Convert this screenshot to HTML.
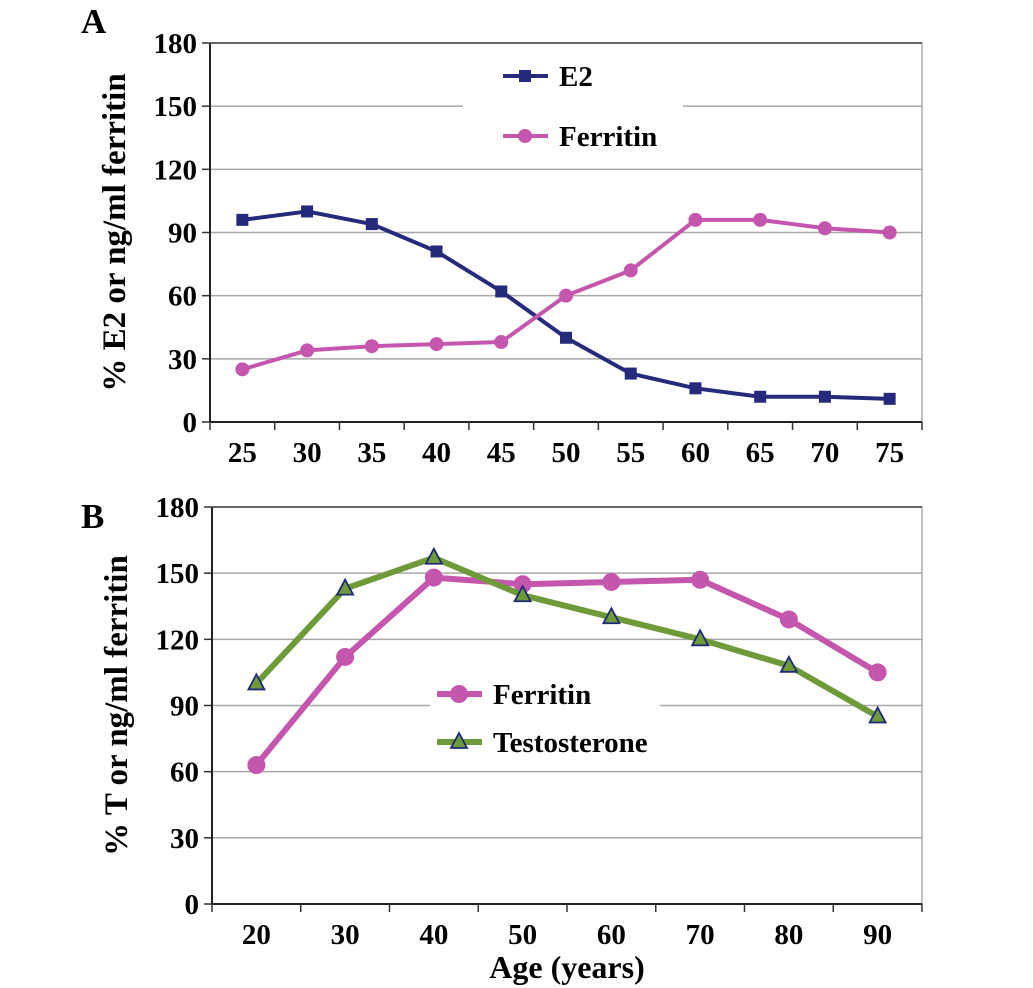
<!DOCTYPE html>
<html><head><meta charset="utf-8"><style>
body{margin:0;background:#fff;}
svg{display:block;font-family:"Liberation Serif",serif;font-weight:bold;}
</style></head><body>
<svg id="chart" width="1033" height="988" viewBox="0 0 1033 988" xmlns="http://www.w3.org/2000/svg"></svg>
<script>
const catsA = ["25","30","35","40","45","50","55","60","65","70","75"];
const e2A = [96,100,94,81,62,40,23,16,12,12,11];
const ferA = [25,34,36,37,38,60,72,96,96,92,90];
const catsB = ["20","30","40","50","60","70","80","90"];
const ferB = [63,112,148,145,146,147,129,105];
const testB = [100,143,157,140,130,120,108,85];
const yTicks = [0,30,60,90,120,150,180];

const NS="http://www.w3.org/2000/svg";
const svg=document.getElementById('chart');
function mk(tag,attrs,parent){const e=document.createElementNS(NS,tag);for(const k in attrs)e.setAttribute(k,attrs[k]);(parent||svg).appendChild(e);return e;}

function panel(o){
  const g=mk('g',{});
  
  
  const n=o.cats.length, bw=(o.R-o.L)/n;
  const x=i=>o.L+bw*(i+0.5);
  const y=v=>o.B-(v/180)*(o.B-o.T);
  yTicks.forEach(t=>{
    if(t>0){const l=mk('line',{x1:o.L,x2:o.R,y1:y(t),y2:y(t),stroke:'#a8a8a8','stroke-width':1.5},g);
      }
    const tk=mk('line',{x1:o.L-8,x2:o.L,y1:y(t),y2:y(t),stroke:'#333','stroke-width':1.5},g);
    
    const tx=mk('text',{x:o.L-13,y:y(t)+10,'text-anchor':'end','font-size':29},g);
    tx.textContent=t;
    
  });
  const fr=mk('rect',{x:o.L,y:o.T,width:o.R-o.L,height:o.B-o.T,fill:'none',stroke:'#999','stroke-width':1.2},g);
  
  mk('line',{x1:o.L,x2:o.L,y1:o.T,y2:o.B,stroke:'#222','stroke-width':2},g);
  mk('line',{x1:o.L,x2:o.R,y1:o.T,y2:o.T,stroke:'#444','stroke-width':1.5},g);
  mk('line',{x1:o.L,x2:o.R,y1:o.B,y2:o.B,stroke:'#222','stroke-width':2},g);
  for(let i=0;i<=n;i++){const tk=mk('line',{x1:o.L+bw*i,x2:o.L+bw*i,y1:o.B,y2:o.B+8,stroke:'#333','stroke-width':1.5},g);
    }
  o.cats.forEach((c,i)=>{const tx=mk('text',{x:x(i),y:o.B+40,'text-anchor':'middle','font-size':29},g);
    tx.textContent=c;});
  const lb=mk('rect',{x:o.leg.x,y:o.leg.y,width:o.leg.w,height:o.leg.h,fill:'#fff'},g);
  
  o.series.forEach((s,si)=>{
    const sg=mk('g',{},g);
    
    
    const pts=s.vals.map((v,i)=>x(i)+','+y(v)).join(' ');
    mk('polyline',{points:pts,fill:'none',stroke:s.color,'stroke-width':s.w,'stroke-linejoin':'round'},sg);
    s.vals.forEach((v,i)=>{const m=marker(s,x(i),y(v),sg);});
    const ly=o.leg.rows[si];
    const le=mk('g',{},g);
    
    mk('line',{x1:o.leg.lx,x2:o.leg.lx+45,y1:ly,y2:ly,stroke:s.color,'stroke-width':s.w},le);
    marker(s,o.leg.lx+22,ly,le);
    const t=mk('text',{x:o.leg.lx+56,y:ly+10,'font-size':29},le);t.textContent=s.label;
  });
  const yt=mk('text',{transform:`translate(${o.L-85},${(o.T+o.B)/2}) rotate(-90)`,'text-anchor':'middle','font-size':33},g);
  yt.textContent=o.ytitle;
  const pl=mk('text',{x:81,y:o.letterY,'font-size':35},g);
  pl.textContent=o.letter;
}
function marker(s,cx,cy,p){
  if(s.m==='sq') return mk('rect',{x:cx-6,y:cy-6,width:12,height:12,fill:s.color},p);
  if(s.m==='ci') return mk('circle',{cx:cx,cy:cy,r:s.r,fill:s.color},p);
  return mk('polygon',{points:`${cx},${cy-9} ${cx-8},${cy+6} ${cx+8},${cy+6}`,fill:'#6f9a3a',stroke:'#1e2a78','stroke-width':1.8},p);
}
panel({name:'panel-a',letter:'A',letterY:33,L:210,R:922,T:43,B:422,cats:catsA,ytitle:'% E2 or ng/ml ferritin',
  leg:{x:463,y:62,w:220,h:95,lx:503,rows:[76,136]},
  series:[{label:'E2',vals:e2A,color:'#262a7a',w:4,m:'sq'},{label:'Ferritin',vals:ferA,color:'#c556ad',w:4,m:'ci',r:7}]});
panel({name:'panel-b',letter:'B',letterY:528,L:212,R:922,T:507,B:904,cats:catsB,ytitle:'% T or ng/ml ferritin',
  leg:{x:430,y:672,w:230,h:90,lx:437,rows:[694,742]},
  series:[{label:'Ferritin',vals:ferB,color:'#c556ad',w:6,m:'ci',r:9},{label:'Testosterone',vals:testB,color:'#6f9a3a',w:6,m:'tr'}]});
const xt=mk('text',{x:567,y:978,'text-anchor':'middle','font-size':32});
xt.textContent='Age (years)';


</script>
</body></html>
